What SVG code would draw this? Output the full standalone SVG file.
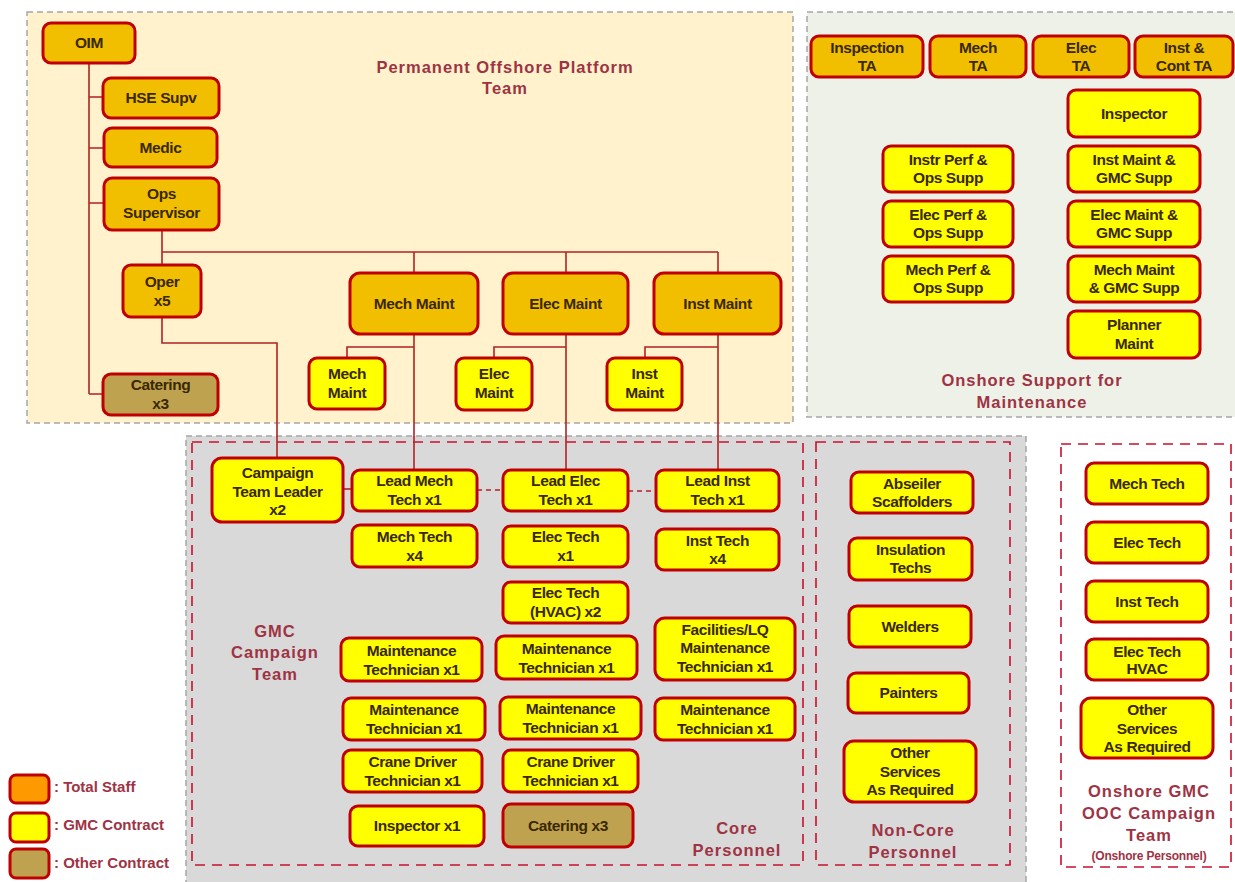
<svg xmlns="http://www.w3.org/2000/svg" width="1235" height="882" viewBox="0 0 1235 882">
<style>
.n rect{stroke:#C00000;stroke-width:3}
.ts rect{fill:#F2BF00}
.gm rect{fill:#FFFF00}
.oc rect{fill:#BFA24F}
.n text{font-family:"Liberation Sans",Arial,sans-serif;font-weight:bold;font-size:15.5px;fill:#3A2800;text-anchor:middle;letter-spacing:-0.4px}
.t{font-family:"Liberation Sans",Arial,sans-serif;font-weight:bold;font-size:16.5px;fill:#9E3344;text-anchor:middle;letter-spacing:1px}
.lg{font-family:"Liberation Sans",Arial,sans-serif;font-weight:bold;font-size:15px;fill:#9E3344}
.c{fill:none;stroke:#B22222;stroke-width:1.6}
.cd{fill:none;stroke:#B22222;stroke-width:1.6;stroke-dasharray:5 4}
.reg{stroke:#A6A6A6;stroke-width:1.5;stroke-dasharray:6 4}
.rd{fill:none;stroke:#C8102E;stroke-width:1.6;stroke-dasharray:10 7}
</style>
<rect width="1235" height="882" fill="#FFFFFF"/>
<g id="regions">
<rect class="reg" x="27" y="12" width="766" height="411" fill="#FFF2CC"/>
<rect class="reg" x="807" y="12" width="440" height="405" fill="#EDF1E7"/>
<rect class="reg" x="186" y="436" width="840" height="460" fill="#D9D9D9"/>
<rect class="rd" x="192" y="442" width="611" height="423"/>
<rect class="rd" x="816" y="442" width="194" height="423"/>
<rect class="rd" x="1061" y="444" width="170" height="423"/>
</g>
<g id="titles">
<text class="t" x="505" y="73">Permanent Offshore Platform</text>
<text class="t" x="505" y="94">Team</text>
<text class="t" x="1032" y="386">Onshore Support for</text>
<text class="t" x="1032" y="408">Maintenance</text>
<text class="t" x="275" y="637">GMC</text>
<text class="t" x="275" y="658">Campaign</text>
<text class="t" x="275" y="680">Team</text>
<text class="t" x="737" y="834">Core</text>
<text class="t" x="737" y="856">Personnel</text>
<text class="t" x="913" y="836">Non-Core</text>
<text class="t" x="913" y="858">Personnel</text>
<text class="t" x="1149" y="797">Onshore GMC</text>
<text class="t" x="1149" y="819">OOC Campaign</text>
<text class="t" x="1149" y="841">Team</text>
<text class="t" x="1149" y="860" style="font-size:12px;letter-spacing:-0.2px">(Onshore Personnel)</text>
</g>
<g id="connectors">
<path class="c" d="M89 63V394M89 97H103M89 148H104M89 203H104M89 394H103"/>
<path class="c" d="M162 230V265M162 252H718M414 252V273M566 252V273M718 252V273"/>
<path class="c" d="M162 317V343H277V458"/>
<path class="c" d="M414 334V470M414 347H347V358"/>
<path class="c" d="M566 334V470M566 347H494V358"/>
<path class="c" d="M718 334V470M718 347H645V358"/>
<path class="c" d="M343 489H352"/>
<path class="cd" d="M477 490H503M628 491H656"/>
</g>
<g id="oim" class="n ts"><rect x="43" y="23" width="92" height="40" rx="8"/><text x="89" y="48">OIM</text></g>
<g id="hse" class="n ts"><rect x="103" y="78" width="116" height="40" rx="8"/><text x="161" y="103">HSE Supv</text></g>
<g id="medic" class="n ts"><rect x="104" y="128" width="113" height="39" rx="8"/><text x="160.5" y="153">Medic</text></g>
<g id="ops" class="n ts"><rect x="104" y="178" width="115" height="52" rx="8"/><text x="161.5" y="199">Ops</text><text x="161.5" y="218">Supervisor</text></g>
<g id="oper" class="n ts"><rect x="123" y="265" width="78" height="52" rx="8"/><text x="162" y="287">Oper</text><text x="162" y="306">x5</text></g>
<g id="catering-top" class="n oc"><rect x="103" y="374" width="115" height="41" rx="8"/><text x="160.5" y="390">Catering</text><text x="160.5" y="409">x3</text></g>
<g id="mech-maint" class="n ts"><rect x="350" y="273" width="128" height="61" rx="10"/><text x="414" y="309">Mech Maint</text></g>
<g id="elec-maint" class="n ts"><rect x="503" y="273" width="125" height="61" rx="10"/><text x="565.5" y="309">Elec Maint</text></g>
<g id="inst-maint" class="n ts"><rect x="654" y="273" width="127" height="61" rx="10"/><text x="717.5" y="309">Inst Maint</text></g>
<g id="mech-maint-s" class="n gm"><rect x="309" y="358" width="76" height="51" rx="8"/><text x="347" y="379">Mech</text><text x="347" y="398">Maint</text></g>
<g id="elec-maint-s" class="n gm"><rect x="456" y="358" width="76" height="52" rx="8"/><text x="494" y="379">Elec</text><text x="494" y="398">Maint</text></g>
<g id="inst-maint-s" class="n gm"><rect x="607" y="358" width="75" height="52" rx="8"/><text x="644.5" y="379">Inst</text><text x="644.5" y="398">Maint</text></g>
<g id="insp-ta" class="n ts"><rect x="811" y="36" width="112" height="41" rx="8"/><text x="867" y="53">Inspection</text><text x="867" y="71">TA</text></g>
<g id="mech-ta" class="n ts"><rect x="930" y="36" width="96" height="41" rx="8"/><text x="978" y="53">Mech</text><text x="978" y="71">TA</text></g>
<g id="elec-ta" class="n ts"><rect x="1033" y="36" width="96" height="41" rx="8"/><text x="1081" y="53">Elec</text><text x="1081" y="71">TA</text></g>
<g id="inst-ta" class="n ts"><rect x="1135" y="36" width="98" height="41" rx="8"/><text x="1184" y="53">Inst &amp;</text><text x="1184" y="71">Cont TA</text></g>
<g id="inspector" class="n gm"><rect x="1068" y="90" width="132" height="47" rx="8"/><text x="1134" y="119">Inspector</text></g>
<g id="inst-gmc" class="n gm"><rect x="1068" y="146" width="132" height="46" rx="8"/><text x="1134" y="165">Inst Maint &amp;</text><text x="1134" y="183">GMC Supp</text></g>
<g id="elec-gmc" class="n gm"><rect x="1068" y="201" width="132" height="46" rx="8"/><text x="1134" y="220">Elec Maint &amp;</text><text x="1134" y="238">GMC Supp</text></g>
<g id="mech-gmc" class="n gm"><rect x="1068" y="256" width="132" height="46" rx="8"/><text x="1134" y="275">Mech Maint</text><text x="1134" y="293">&amp; GMC Supp</text></g>
<g id="planner" class="n gm"><rect x="1068" y="311" width="132" height="47" rx="8"/><text x="1134" y="330">Planner</text><text x="1134" y="349">Maint</text></g>
<g id="instr-perf" class="n gm"><rect x="883" y="146" width="130" height="46" rx="8"/><text x="948" y="165">Instr Perf &amp;</text><text x="948" y="183">Ops Supp</text></g>
<g id="elec-perf" class="n gm"><rect x="883" y="201" width="130" height="46" rx="8"/><text x="948" y="220">Elec Perf &amp;</text><text x="948" y="238">Ops Supp</text></g>
<g id="mech-perf" class="n gm"><rect x="883" y="256" width="130" height="46" rx="8"/><text x="948" y="275">Mech Perf &amp;</text><text x="948" y="293">Ops Supp</text></g>
<g id="ctl" class="n gm"><rect x="212" y="458" width="131" height="64" rx="10"/><text x="277.5" y="478">Campaign</text><text x="277.5" y="497">Team Leader</text><text x="277.5" y="515">x2</text></g>
<g id="lead-mech" class="n gm"><rect x="352" y="470" width="125" height="41" rx="8"/><text x="414.5" y="486">Lead Mech</text><text x="414.5" y="505">Tech x1</text></g>
<g id="mech-tech" class="n gm"><rect x="352" y="525" width="125" height="42" rx="8"/><text x="414.5" y="542">Mech Tech</text><text x="414.5" y="561">x4</text></g>
<g id="lead-elec" class="n gm"><rect x="503" y="470" width="125" height="41" rx="8"/><text x="565.5" y="486">Lead Elec</text><text x="565.5" y="505">Tech x1</text></g>
<g id="elec-tech" class="n gm"><rect x="503" y="526" width="125" height="41" rx="8"/><text x="565.5" y="542">Elec Tech</text><text x="565.5" y="561">x1</text></g>
<g id="elec-hvac" class="n gm"><rect x="503" y="582" width="125" height="41" rx="8"/><text x="565.5" y="598">Elec Tech</text><text x="565.5" y="617">(HVAC) x2</text></g>
<g id="lead-inst" class="n gm"><rect x="656" y="470" width="123" height="41" rx="8"/><text x="717.5" y="486">Lead Inst</text><text x="717.5" y="505">Tech x1</text></g>
<g id="inst-tech" class="n gm"><rect x="656" y="529" width="123" height="41" rx="8"/><text x="717.5" y="546">Inst Tech</text><text x="717.5" y="564">x4</text></g>
<g id="mt1" class="n gm"><rect x="341" y="638" width="141" height="43" rx="8"/><text x="411.5" y="656">Maintenance</text><text x="411.5" y="675">Technician x1</text></g>
<g id="mt2" class="n gm"><rect x="496" y="636" width="141" height="43" rx="8"/><text x="566.5" y="654">Maintenance</text><text x="566.5" y="673">Technician x1</text></g>
<g id="fac" class="n gm"><rect x="655" y="618" width="140" height="62" rx="10"/><text x="725" y="635">Facilities/LQ</text><text x="725" y="653">Maintenance</text><text x="725" y="672">Technician x1</text></g>
<g id="mt3" class="n gm"><rect x="343" y="698" width="142" height="42" rx="8"/><text x="414" y="715">Maintenance</text><text x="414" y="734">Technician x1</text></g>
<g id="mt4" class="n gm"><rect x="500" y="697" width="141" height="42" rx="8"/><text x="570.5" y="714">Maintenance</text><text x="570.5" y="733">Technician x1</text></g>
<g id="mt5" class="n gm"><rect x="655" y="698" width="140" height="42" rx="8"/><text x="725" y="715">Maintenance</text><text x="725" y="734">Technician x1</text></g>
<g id="crane1" class="n gm"><rect x="343" y="750" width="139" height="42" rx="8"/><text x="412.5" y="767">Crane Driver</text><text x="412.5" y="786">Technician x1</text></g>
<g id="crane2" class="n gm"><rect x="503" y="750" width="135" height="42" rx="8"/><text x="570.5" y="767">Crane Driver</text><text x="570.5" y="786">Technician x1</text></g>
<g id="inspector-x1" class="n gm"><rect x="350" y="806" width="134" height="40" rx="8"/><text x="417" y="831">Inspector x1</text></g>
<g id="catering-x3" class="n oc"><rect x="503" y="804" width="130" height="43" rx="8"/><text x="568" y="831">Catering x3</text></g>
<g id="abseiler" class="n gm"><rect x="851" y="472" width="122" height="41" rx="8"/><text x="912" y="489">Abseiler</text><text x="912" y="507">Scaffolders</text></g>
<g id="insulation" class="n gm"><rect x="849" y="538" width="123" height="42" rx="8"/><text x="910.5" y="555">Insulation</text><text x="910.5" y="573">Techs</text></g>
<g id="welders" class="n gm"><rect x="849" y="606" width="122" height="41" rx="8"/><text x="910" y="632">Welders</text></g>
<g id="painters" class="n gm"><rect x="848" y="673" width="121" height="40" rx="8"/><text x="908.5" y="698">Painters</text></g>
<g id="other-nc" class="n gm"><rect x="844" y="741" width="132" height="61" rx="10"/><text x="910" y="758">Other</text><text x="910" y="777">Services</text><text x="910" y="795">As Required</text></g>
<g id="on-mech" class="n gm"><rect x="1086" y="463" width="122" height="41" rx="8"/><text x="1147" y="489">Mech Tech</text></g>
<g id="on-elec" class="n gm"><rect x="1086" y="522" width="122" height="41" rx="8"/><text x="1147" y="548">Elec Tech</text></g>
<g id="on-inst" class="n gm"><rect x="1086" y="581" width="122" height="41" rx="8"/><text x="1147" y="607">Inst Tech</text></g>
<g id="on-hvac" class="n gm"><rect x="1086" y="639" width="122" height="41" rx="8"/><text x="1147" y="657">Elec Tech</text><text x="1147" y="674">HVAC</text></g>
<g id="on-other" class="n gm"><rect x="1081" y="698" width="132" height="60" rx="10"/><text x="1147" y="715">Other</text><text x="1147" y="734">Services</text><text x="1147" y="752">As Required</text></g>
<g id="legend">
<g class="n"><rect x="10" y="775" width="39" height="28" rx="6" fill="#FF9900"/></g>
<g class="n"><rect x="10" y="813" width="39" height="29" rx="6" fill="#FFFF00"/></g>
<g class="n"><rect x="10" y="849" width="39" height="29" rx="6" fill="#BFA24F"/></g>
<text class="lg" x="54" y="792">: Total Staff</text>
<text class="lg" x="54" y="830">: GMC Contract</text>
<text class="lg" x="54" y="868">: Other Contract</text>
</g>
</svg>
